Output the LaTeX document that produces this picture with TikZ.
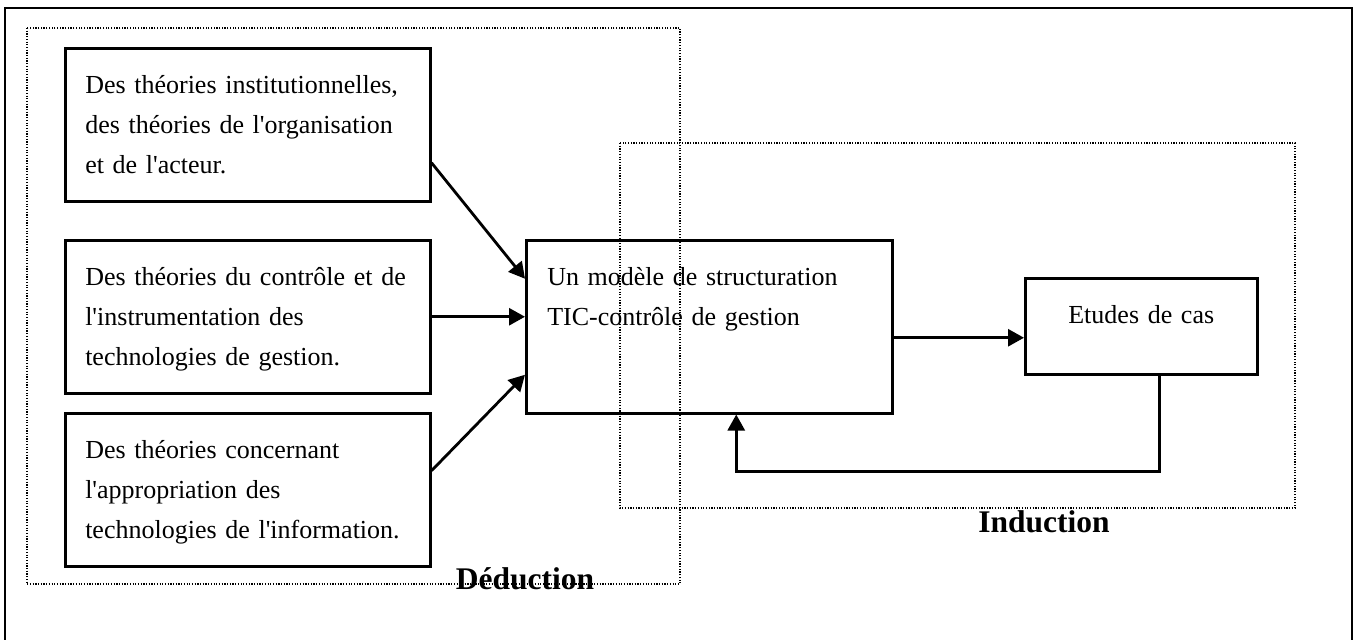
\documentclass[tikz,border=0pt]{standalone}
\usepackage{fontspec}
\setmainfont{Liberation Serif}[Ligatures=TeXOff]
\usetikzlibrary{arrows.meta,calc}

\begin{document}
\begin{tikzpicture}[x=1pt, y=-1pt,
  thbox/.style={rectangle, draw, line width=2.5pt, anchor=north west, inner xsep=20pt, inner ysep=0pt,
    text height=45pt, align=left, font=\fontsize{26}{40}\selectfont},
  zone/.style={draw, line width=1.2pt, dash pattern=on 1.2pt off 1.5pt},
  zonelabel/.style={anchor=base, font=\fontsize{31.5}{36}\selectfont\bfseries},
  arr/.style={-{Triangle[length=16pt, width=17pt]}, line width=2.8pt}
]
  \useasboundingbox (0,0) rectangle (1355,640);
  \draw[line width=2.5pt] (5,640) -- (5,8) -- (1352,8) -- (1352,640);
  \draw[zone] (27,28) rectangle (680,584);
  \draw[zone] (620,143) rectangle (1295,508);

  \node[thbox, text width=325pt, text depth=108pt] (b1) at (64,47) {Des théories institutionnelles,\\des théories de l'organisation\\et de l'acteur.};
  \node[thbox, text width=325pt, text depth=108pt] (b2) at (64,239) {Des théories du contrôle et de\\l'instrumentation des\\technologies de gestion.};
  \node[thbox, text width=325pt, text depth=108pt] (b3) at (64,412) {Des théories concernant\\l'appropriation des\\technologies de l'information.};
  \node[thbox, inner xsep=21pt, text width=324pt, text depth=128pt] (mod) at (525,239) {Un modèle de structuration\\TIC-contrôle de gestion};
  \node[thbox, align=center, text width=192pt, text height=45pt, text depth=51pt] (cas) at (1024,277) {Etudes de cas};

  \node[zonelabel] (ded) at (525,589) {Déduction};
  \node[zonelabel] (ind) at (1044,532) {Induction};

  \draw[arr] ([yshift=-38pt]b1.east) -- ([yshift=48pt]mod.west);
  \draw[arr] (b2.east) -- (b2.east -| mod.west);
  \draw[arr] ([yshift=19pt]b3.east) -- ([yshift=-48pt]mod.west);
  \draw[arr] ([yshift=-11pt]mod.east) -- ([yshift=-11pt]mod.east -| cas.west);
  \draw[arr] ([xshift=18pt]cas.south) -- ++(0,96) -| ([xshift=27pt]mod.south);
\end{tikzpicture}
\end{document}
